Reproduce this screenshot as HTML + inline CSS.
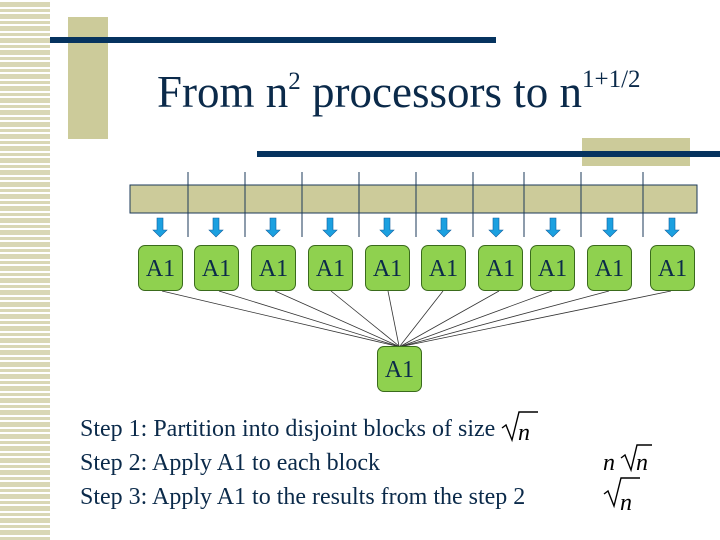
<!DOCTYPE html>
<html><head><style>
body{margin:0;width:720px;height:540px;overflow:hidden;background:#fff;position:relative;font-family:"Liberation Serif",serif}
.a{position:absolute}
.box{position:absolute;top:245px;width:45px;height:46px;background:#8fd14f;border:1px solid #3a6b1c;border-radius:7px;box-sizing:border-box;font-size:24px;color:#0b2a4a;text-align:center;line-height:46px}
.step{position:absolute;left:80px;font-size:24px;color:#0b2a4a;white-space:nowrap}
</style></head><body>
<div class="a" style="left:0;top:0;width:50px;height:540px;background:repeating-linear-gradient(#fff 0,#fff 2px,#d9d7b5 2px,#d9d7b5 7px,#fff 7px,#fff 9px,#d9d7b5 9px,#d9d7b5 12px)"></div>
<div class="a" style="left:68px;top:17px;width:40px;height:122px;background:#cccb9a"></div>
<div class="a" style="left:50px;top:37px;width:446px;height:6px;background:#06335f"></div>
<div class="a" style="left:157px;top:54px;font-size:45px;line-height:52px;color:#0b2a4a;white-space:nowrap">From n<sup style="font-size:25px;vertical-align:18px">2</sup> processors to n<sup style="font-size:25px;vertical-align:20px">1+1/2</sup></div>
<div class="a" style="left:582px;top:138px;width:108px;height:28px;background:#cccb9a"></div>
<div class="a" style="left:257px;top:151px;width:463px;height:6px;background:#06335f"></div>
<svg class="a" style="left:0;top:0" width="720" height="540">
<rect x="130" y="185" width="567" height="28" fill="#cccb9a" stroke="#1b3a5a" stroke-width="1"/>
<g stroke="#1b3a5a" stroke-width="1">
<line x1="188" y1="172" x2="188" y2="237"/><line x1="245" y1="172" x2="245" y2="237"/><line x1="302" y1="172" x2="302" y2="237"/><line x1="359" y1="172" x2="359" y2="237"/><line x1="416" y1="172" x2="416" y2="237"/><line x1="473" y1="172" x2="473" y2="237"/><line x1="524" y1="172" x2="524" y2="237"/><line x1="581" y1="172" x2="581" y2="237"/><line x1="643" y1="172" x2="643" y2="237"/>
</g>
<g fill="#1ba0e0" stroke="#1060a0" stroke-width="0.6">
<path id="ar" d="M157 218h6v12h4l-7 7l-7-7h4z"/>
<use href="#ar" x="56"/><use href="#ar" x="113"/><use href="#ar" x="170"/><use href="#ar" x="227"/><use href="#ar" x="284"/><use href="#ar" x="336"/><use href="#ar" x="393"/><use href="#ar" x="450"/><use href="#ar" x="512"/>
</g>
<g stroke="#333" stroke-width="0.8">
<line x1="162" y1="291" x2="396" y2="346"/><line x1="219" y1="291" x2="397" y2="346"/><line x1="275" y1="291" x2="398" y2="346"/><line x1="331" y1="291" x2="399" y2="346"/><line x1="388" y1="291" x2="399" y2="346"/><line x1="443" y1="291" x2="400" y2="346"/><line x1="499" y1="291" x2="401" y2="346"/><line x1="552" y1="291" x2="402" y2="346"/><line x1="609" y1="291" x2="403" y2="346"/><line x1="671" y1="291" x2="404" y2="346"/>
</g>
</svg>
<div class="box" style="left:138px">A1</div>
<div class="box" style="left:194px">A1</div>
<div class="box" style="left:251px">A1</div>
<div class="box" style="left:308px">A1</div>
<div class="box" style="left:365px">A1</div>
<div class="box" style="left:421px">A1</div>
<div class="box" style="left:478px">A1</div>
<div class="box" style="left:530px">A1</div>
<div class="box" style="left:587px">A1</div>
<div class="box" style="left:650px">A1</div>
<div class="box" style="left:377px;top:346px">A1</div>
<div class="step" style="top:416px">Step 1: Partition into disjoint blocks of size</div>
<div class="step" style="top:450px">Step 2: Apply A1 to each block</div>
<div class="step" style="top:484px">Step 3: Apply A1 to the results from the step 2</div>
<svg class="a" style="left:0;top:0" width="720" height="540" font-family="Liberation Serif" font-style="italic" font-size="24">
<g fill="none" stroke="#000" stroke-width="1.4">
<path d="M502 428l4-3l6 15l7-28h19"/>
<path d="M621 458l4-3l6 15l6-25h15"/>
<path d="M604 494l4-3l6 15l7-28h19"/>
</g>
<text x="518" y="440">n</text>
<text x="603" y="470">n</text><text x="636" y="470">n</text>
<text x="620" y="510">n</text>
</svg>
</body></html>
